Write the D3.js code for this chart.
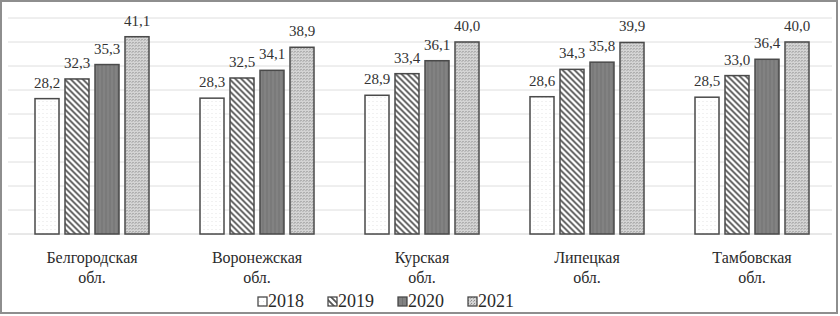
<!DOCTYPE html>
<html><head><meta charset="utf-8">
<script src="https://cdn.jsdelivr.net/npm/d3@7"></script>
<style>html,body{margin:0;padding:0;background:#fff;}svg{display:block;}
text{font-family:"Liberation Serif","Tinos","DejaVu Serif","Noto Serif",serif;}</style>
</head><body>
<svg id="c" width="840" height="316"></svg>
<script>
const categories = [["Белгородская","обл."],["Воронежская","обл."],["Курская","обл."],["Липецкая","обл."],["Тамбовская","обл."]];
const years = ["2018","2019","2020","2021"];
const values2018 = [28.2, 28.3, 28.9, 28.6, 28.5];
const values2019 = [32.3, 32.5, 33.4, 34.3, 33.0];
const values2020 = [35.3, 34.1, 36.1, 35.8, 36.4];
const values2021 = [41.1, 38.9, 40.0, 39.9, 40.0];
const series = [values2018, values2019, values2020, values2021];
const yTicks = [0,5,10,15,20,25,30,35,40,45];

const svg = d3.select("#c");
const defs = svg.append("defs");
let p = defs.append("pattern").attr("id","p0").attr("patternUnits","userSpaceOnUse").attr("width",4).attr("height",4);
p.append("rect").attr("width",4).attr("height",4).attr("fill","#fff");
p.append("rect").attr("x",1).attr("y",1).attr("width",1).attr("height",1).attr("fill","#e2e2e2");
p = defs.append("pattern").attr("id","p1").attr("patternUnits","userSpaceOnUse").attr("width",6).attr("height",6);
p.append("rect").attr("width",6).attr("height",6).attr("fill","#fff");
p.append("path").attr("d","M0,0L6,6M-1,5L1,7M5,-1L7,1").attr("stroke","#555").attr("stroke-width",1.8);
p = defs.append("pattern").attr("id","p2").attr("patternUnits","userSpaceOnUse").attr("width",4).attr("height",4);
p.append("rect").attr("width",4).attr("height",4).attr("fill","#828282");
p.append("rect").attr("x",0).attr("width",1).attr("height",4).attr("fill","#727272");
p = defs.append("pattern").attr("id","p3").attr("patternUnits","userSpaceOnUse").attr("width",3).attr("height",3);
p.append("rect").attr("width",3).attr("height",3).attr("fill","#d4d4d4");
p.append("rect").attr("x",0).attr("y",0).attr("width",1).attr("height",1).attr("fill","#8a8a8a");
p.append("rect").attr("x",2).attr("y",1).attr("width",1).attr("height",1).attr("fill","#a8a8a8");
const fills = ["url(#p0)","url(#p1)","url(#p2)","url(#p3)"];

svg.append("rect").attr("x",1).attr("y",1).attr("width",836).attr("height",312)
  .attr("fill","none").attr("stroke","#8e8e8e").attr("stroke-width",2);

const x0 = d3.scaleBand().domain(d3.range(categories.length)).range([9.5, 834.5]);
const x1 = d3.scaleBand().domain(years).range([0, x0.bandwidth()]).paddingInner(0.2).paddingOuter(0.85);
const y = d3.scaleLinear().domain([0,45]).range([234,18]);

svg.append("g").selectAll("line").data(yTicks.slice(1)).join("line")
  .attr("x1",8).attr("x2",832).attr("y1",d=>y(d)).attr("y2",d=>y(d))
  .attr("stroke","#dedede").attr("stroke-width",1);
svg.append("line").attr("x1",8).attr("x2",832).attr("y1",y(0)).attr("y2",y(0))
  .attr("stroke","#d0d0d0").attr("stroke-width",1);

const groups = svg.append("g").selectAll("g").data(categories).join("g")
  .attr("transform",(d,i)=>`translate(${x0(i)},0)`);
groups.each(function(cat, ci){
  const g = d3.select(this);
  years.forEach((yr, si)=>{
    const v = series[si][ci];
    g.append("rect").attr("x",x1(yr)).attr("y",y(v)).attr("width",x1.bandwidth()).attr("height",y(0)-y(v))
      .attr("fill",fills[si]).attr("stroke","#4a4a4a").attr("stroke-width",1.5);
    g.append("text").attr("x",x1(yr)+x1.bandwidth()/2).attr("y",y(v)-11)
      .attr("text-anchor","middle").attr("font-size",15).attr("fill","#333")
      .text(v.toFixed(1).replace(".",","));
  });
  g.append("text").attr("x",x0.bandwidth()/2).attr("y",263).attr("text-anchor","middle")
    .attr("font-size",16).attr("fill","#2a2a2a").text(cat[0]);
  g.append("text").attr("x",x0.bandwidth()/2).attr("y",283).attr("text-anchor","middle")
    .attr("font-size",16).attr("fill","#2a2a2a").text(cat[1]);
});

const leg = svg.append("g").selectAll("g").data(years).join("g")
  .attr("transform",(d,i)=>`translate(${258+i*70},0)`);
leg.append("rect").attr("x",0).attr("y",297).attr("width",9).attr("height",9)
  .attr("fill",(d,i)=>fills[i]).attr("stroke","#4a4a4a").attr("stroke-width",1.3);
leg.append("text").attr("x",10).attr("y",307).attr("font-size",18)
  .attr("fill","#2a2a2a").text(d=>d);
</script>
</body></html>
